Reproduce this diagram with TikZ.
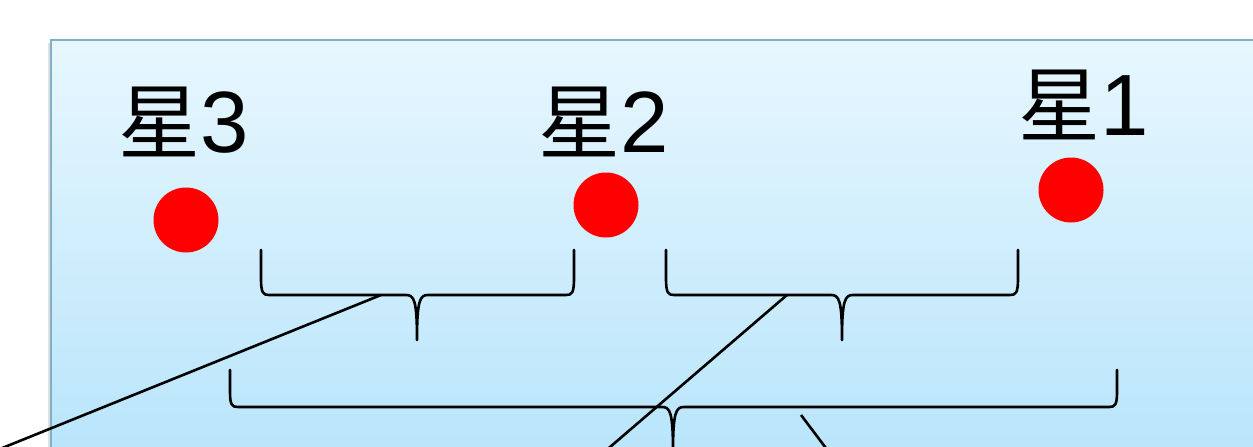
\documentclass[tikz,border=0pt]{standalone}
\usepackage{fontspec}
\setmainfont{Liberation Sans}
\newfontfamily\cjk{Noto Sans CJK JP}
\definecolor{bordc}{RGB}{127,176,200}
\definecolor{topc}{RGB}{231,247,254}
\definecolor{botc}{RGB}{183,228,251}
\begin{document}
\begin{tikzpicture}[x=1pt,y=-1pt,
  stardot/.style={circle, fill=red, minimum size=65pt, inner sep=0pt},
  lbl/.style={anchor=base west, inner sep=0pt, font=\fontsize{87}{87}\selectfont},
  bracestroke/.style={line width=2.6pt, line join=round, line cap=round},
  conn/.style={line width=2.6pt}]
\useasboundingbox (0,0) rectangle (1253,447);
\clip (0,0) rectangle (1253,447);
% panel shadow and panel
\fill[black!12] (48,43) rectangle (1270,470);
\shade[top color=topc, bottom color=botc] (51,40) rectangle (1270,470);
\draw[bordc, line width=2pt] (1270,40) -- (51,40) -- (51,470);
% labels
\node[lbl] (l3) at (118,152) {{\cjk\fontsize{82}{82}\selectfont 星}3};
\node[lbl] (l2) at (538,152) {{\cjk\fontsize{82}{82}\selectfont 星}2};
\node[lbl] (l1) at (1018,135) {{\cjk\fontsize{82}{82}\selectfont 星}1};
% stars
\node[stardot] (s3) at (186,220) {};
\node[stardot] (s2) at (606,205) {};
\node[stardot] (s1) at (1071,190) {};
% small brace 1
\draw[bracestroke] (261,250) -- (261,278) .. controls (261,293) and (263,295) .. (269,295)
  -- (406,295) .. controls (414,295) and (417,300) .. (417,340)
  .. controls (417,300) and (420,295) .. (428,295)
  -- (566,295) .. controls (572,295) and (574,293) .. (574,278) -- (574,250);
% small brace 2
\draw[bracestroke] (666,250) -- (666,278) .. controls (666,293) and (668,295) .. (674,295)
  -- (831,295) .. controls (839,295) and (842,300) .. (842,340)
  .. controls (842,300) and (845,295) .. (853,295)
  -- (1010,295) .. controls (1016,295) and (1018,293) .. (1018,278) -- (1018,250);
% large brace
\draw[bracestroke] (230,370) -- (230,392) .. controls (230,405) and (232,407) .. (238,407)
  -- (662,407) .. controls (670,407) and (673,412) .. (673,452)
  .. controls (673,412) and (676,407) .. (684,407)
  -- (1109,407) .. controls (1115,407) and (1117,405) .. (1117,392) -- (1117,370);
% connector points
\coordinate (b1) at (381,295);
\coordinate (b2) at (787,295);
\coordinate (b3) at (801,415);
\coordinate (e1) at (-20,457);
\coordinate (e2) at (560,490);
\coordinate (e3) at (850,480);
\draw[conn] (b1) -- (e1);
\draw[conn] (b2) -- (e2);
\draw[conn] (b3) -- (e3);
\end{tikzpicture}
\end{document}
